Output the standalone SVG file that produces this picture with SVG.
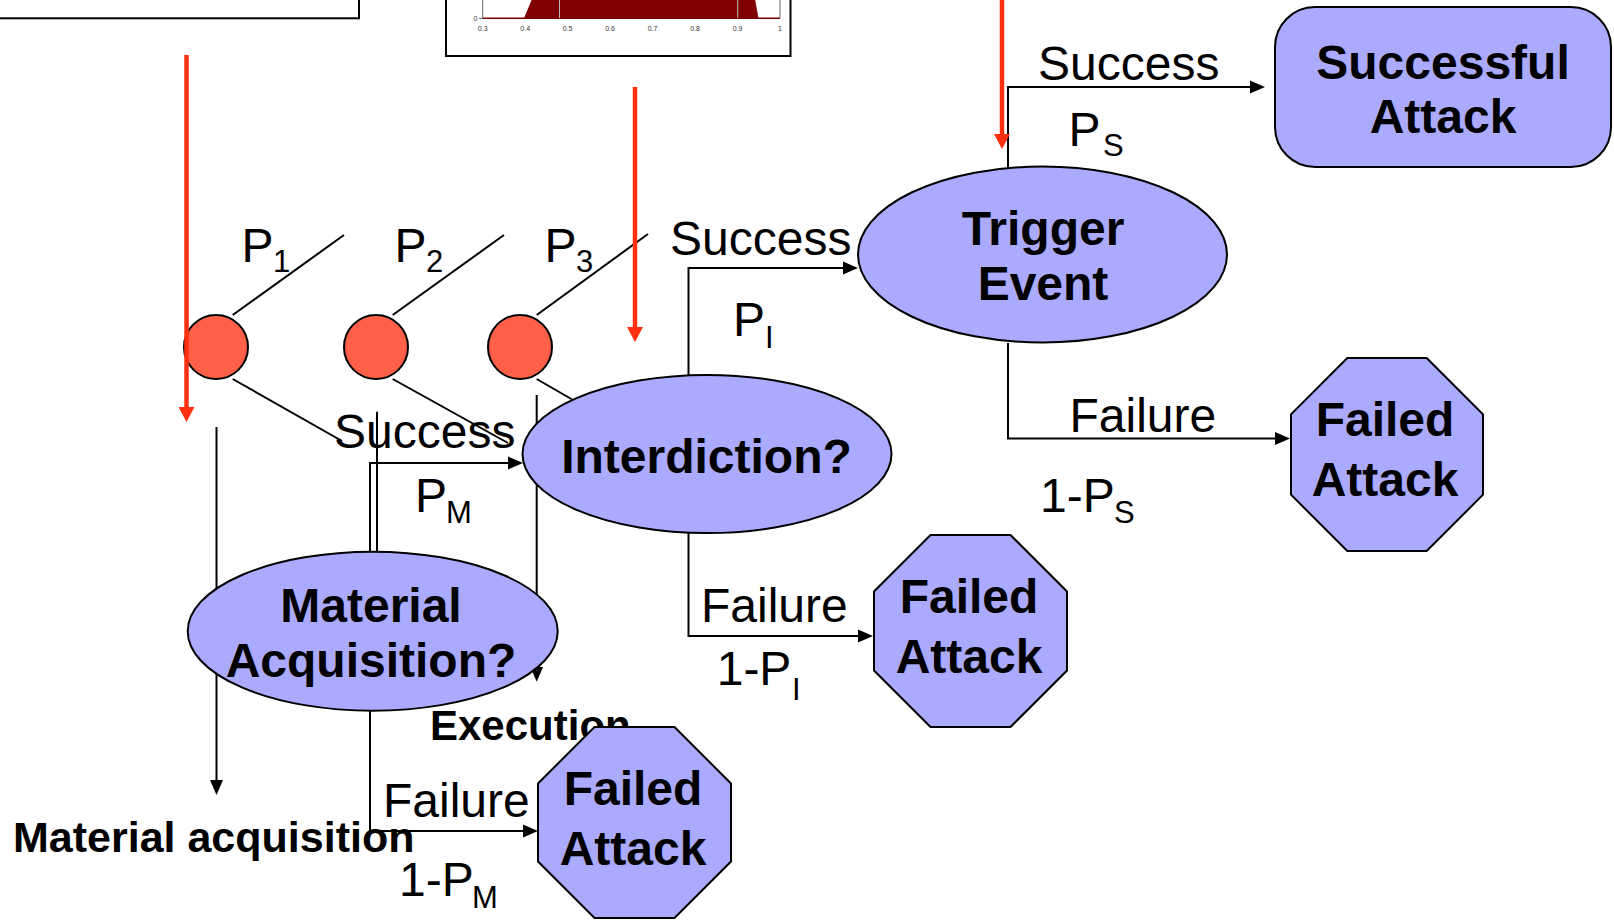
<svg xmlns="http://www.w3.org/2000/svg" width="1614" height="923" viewBox="0 0 1614 923">
<defs>
<style>
.t{font-family:"Liberation Sans",Arial,sans-serif;fill:#000}
.lbl{font-size:48px}
.sub{font-size:31px}
.nd{font-weight:bold;font-size:48px;text-anchor:middle}
.tick{font-size:7px;fill:#333;text-anchor:middle}
.c{fill:none;stroke:#000;stroke-width:2}
.n{fill:#AAAAFF;stroke:#000;stroke-width:2}
.red{fill:none;stroke:#FF3010;stroke-width:4.5}
</style>
<marker id="ah" markerUnits="userSpaceOnUse" markerWidth="16" markerHeight="14" refX="0" refY="7" orient="auto"><path d="M0,0.5 L15,7 L0,13.5 z" fill="#000"/></marker>
<marker id="rh" markerUnits="userSpaceOnUse" markerWidth="16" markerHeight="16" refX="0" refY="8" orient="auto"><path d="M0,0 L15,8 L0,16 z" fill="#FF3010"/></marker>
</defs>
<rect width="1614" height="923" fill="#fff"/>

<g id="topleft-box">
<rect x="-10" y="-10" width="369" height="28.3" fill="#fff" stroke="#000" stroke-width="2"/>
</g>

<g id="chart">
<rect x="446" y="-10" width="344.5" height="66" fill="#fff" stroke="#000" stroke-width="2"/>
<polygon points="524,18.3 532,-1 755,-1 758.5,18.3" fill="#800000"/>
<line x1="482.7" y1="18.3" x2="780" y2="18.3" stroke="#800000" stroke-width="1.5"/>
<line x1="559.5" y1="0" x2="559.5" y2="18" stroke="#bbb" stroke-width="1"/>
<line x1="737.7" y1="0" x2="737.7" y2="18" stroke="#bbb" stroke-width="1"/>
<line x1="482.7" y1="-2" x2="482.7" y2="18.3" stroke="#666" stroke-width="1"/>
<line x1="780" y1="-2" x2="780" y2="18.3" stroke="#666" stroke-width="1"/>
<line x1="479" y1="18.3" x2="483" y2="18.3" stroke="#666" stroke-width="1"/>
<text class="t tick" x="475.5" y="21">0</text>
<text class="t tick" x="482.7" y="31">0.3</text>
<text class="t tick" x="525.2" y="31">0.4</text>
<text class="t tick" x="567.6" y="31">0.5</text>
<text class="t tick" x="610.1" y="31">0.6</text>
<text class="t tick" x="652.6" y="31">0.7</text>
<text class="t tick" x="695.1" y="31">0.8</text>
<text class="t tick" x="737.5" y="31">0.9</text>
<text class="t tick" x="780" y="31">1</text>
</g>

<g id="connectors">
<path class="c" d="M1008,168 V87 H1250" marker-end="url(#ah)"/>
<path class="c" d="M1008,343 V438.5 H1275" marker-end="url(#ah)"/>
<path class="c" d="M688.5,375 V268 H843" marker-end="url(#ah)"/>
<path class="c" d="M688.5,533 V636 H858" marker-end="url(#ah)"/>
<path class="c" d="M370,552 V463 H508" marker-end="url(#ah)"/>
<path class="c" d="M370,711 V831 H523" marker-end="url(#ah)"/>
<path class="c" d="M216.5,427 V780" marker-end="url(#ah)"/>
<path class="c" d="M377,411.7 V552"/>
<path class="c" d="M536.7,395 V666.7" marker-end="url(#ah)"/>
<line class="c" x1="232.7" y1="315" x2="344" y2="235"/>
<line class="c" x1="392.7" y1="315" x2="504" y2="235"/>
<line class="c" x1="536.7" y1="315" x2="648" y2="234"/>
<line class="c" x1="232.7" y1="379" x2="342" y2="441"/>
<line class="c" x1="392.7" y1="379" x2="508" y2="443"/>
<line class="c" x1="536.7" y1="379" x2="580" y2="404"/>
</g>

<g id="labels">
<text class="t lbl" x="1038" y="80">Success</text>
<text class="t lbl" x="1068.5" y="146">P</text><text class="t sub" x="1103" y="156">S</text>
<text class="t lbl" x="670" y="255">Success</text>
<text class="t lbl" x="733" y="336">P</text><text class="t sub" x="765" y="348">I</text>
<text class="t lbl" x="241.5" y="261.7">P</text><text class="t sub" x="273" y="272">1</text>
<text class="t lbl" x="394.5" y="261.7">P</text><text class="t sub" x="426" y="272">2</text>
<text class="t lbl" x="544.5" y="261.7">P</text><text class="t sub" x="576" y="272">3</text>
<text class="t lbl" x="334" y="448">Success</text>
<text class="t lbl" x="415" y="512">P</text><text class="t sub" x="446" y="523">M</text>
<text class="t lbl" x="1069.5" y="432">Failure</text>
<text class="t lbl" x="1040" y="512">1-P</text><text class="t sub" x="1114" y="523">S</text>
<text class="t lbl" x="701" y="622">Failure</text>
<text class="t lbl" x="716.7" y="685">1-P</text><text class="t sub" x="792" y="700">I</text>
<text class="t lbl" x="383" y="817">Failure</text>
<text class="t lbl" x="399" y="896">1-P</text><text class="t sub" x="472" y="908">M</text>
<text class="t" x="13" y="852" font-size="43" font-weight="bold">Material acquisition</text>
<text class="t" x="430" y="740" font-size="42" font-weight="bold">Execution</text>
</g>

<g id="node-circle1"><circle cx="216" cy="347" r="32" fill="#FF6047" stroke="#000" stroke-width="2"/></g>
<g id="node-circle2"><circle cx="376" cy="347" r="32" fill="#FF6047" stroke="#000" stroke-width="2"/></g>
<g id="node-circle3"><circle cx="520" cy="347" r="32" fill="#FF6047" stroke="#000" stroke-width="2"/></g>

<g id="node-successful-attack">
<rect class="n" x="1275" y="7" width="336" height="160" rx="40" ry="40"/>
<text class="t nd" x="1443" y="79">Successful</text>
<text class="t nd" x="1443" y="133">Attack</text>
</g>

<g id="node-trigger">
<ellipse class="n" cx="1042.5" cy="254.5" rx="184.5" ry="88"/>
<text class="t nd" x="1043" y="245">Trigger</text>
<text class="t nd" x="1043" y="300">Event</text>
</g>

<g id="node-interdiction">
<ellipse class="n" cx="707" cy="454" rx="184.5" ry="79"/>
<text class="t nd" x="706.5" y="473">Interdiction?</text>
</g>

<g id="node-material">
<ellipse class="n" cx="372.7" cy="631.2" rx="185" ry="79.5"/>
<text class="t nd" x="371" y="622">Material</text>
<text class="t nd" x="371" y="677">Acquisition?</text>
</g>

<g id="node-failed-right">
<polygon class="n" points="1347.3,358 1426.7,358 1483,414.3 1483,494.7 1426.7,551 1347.3,551 1291,494.7 1291,414.3"/>
<text class="t nd" x="1385" y="436">Failed</text>
<text class="t nd" x="1385" y="496">Attack</text>
</g>

<g id="node-failed-middle">
<polygon class="n" points="930.5,535 1010.5,535 1067,591.5 1067,670.5 1010.5,727 930.5,727 874,670.5 874,591.5"/>
<text class="t nd" x="969" y="613">Failed</text>
<text class="t nd" x="969" y="673">Attack</text>
</g>

<g id="node-failed-bottom">
<polygon class="n" points="594.5,727 674.5,727 731,783.5 731,861.5 674.5,918 594.5,918 538,861.5 538,783.5"/>
<text class="t nd" x="633" y="805">Failed</text>
<text class="t nd" x="633" y="865">Attack</text>
</g>

<g id="red-arrows">
<path class="red" d="M186.5,55 V407" marker-end="url(#rh)"/>
<path class="red" d="M635,87 V327" marker-end="url(#rh)"/>
<path class="red" d="M1002,-5 V134" marker-end="url(#rh)"/>
</g>
</svg>
